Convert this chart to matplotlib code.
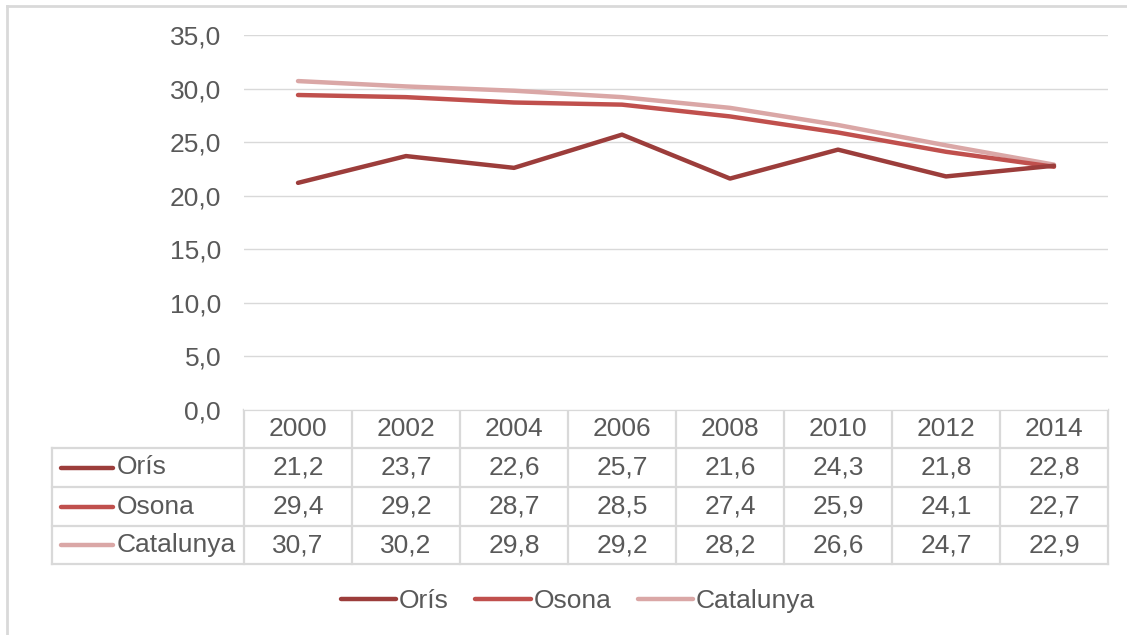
import matplotlib
matplotlib.use("Agg")
import matplotlib.pyplot as plt
from matplotlib.lines import Line2D

plt.rcParams['font.family'] = ['Liberation Sans', 'DejaVu Sans']

# ---------------- DATA ---------------- #
years = ["2000", "2002", "2004", "2006", "2008", "2010", "2012", "2014"]
oris = [21.2, 23.7, 22.6, 25.7, 21.6, 24.3, 21.8, 22.8]
osona = [29.4, 29.2, 28.7, 28.5, 27.4, 25.9, 24.1, 22.7]
catalunya = [30.7, 30.2, 29.8, 29.2, 28.2, 26.6, 24.7, 22.9]
series_names = ["Orís", "Osona", "Catalunya"]
y_ticks = [0, 5, 10, 15, 20, 25, 30, 35]

colors = ["#9c3d3b", "#c0504d", "#daa7a6"]
text_col = "#595959"
grid_col = "#d9d9d9"
fs = 19

W, H = 1127, 635
fig = plt.figure(figsize=(W / 100, H / 100), dpi=100)

# plot area in pixels
left, right, top, bottom = 244, 1108, 35, 410
ax = fig.add_axes([left / W, 1 - bottom / H, (right - left) / W, (bottom - top) / H])

x = list(range(len(years)))
for vals, c in zip([catalunya, osona, oris], colors[::-1]):
    ax.plot(x, vals, color=c, lw=3.2, solid_capstyle='round', solid_joinstyle='round')

ax.set_xlim(-0.5, len(years) - 0.5)
ax.set_ylim(0, 35)
ax.set_yticks(y_ticks)
ax.set_yticklabels([f"{v:.1f}".replace(".", ",") for v in y_ticks], color=text_col, fontsize=fs)
ax.tick_params(axis='y', length=0, pad=16.5)
ax.set_xticks([])
ax.grid(axis='y', color=grid_col, lw=1)
ax.set_axisbelow(True)
for s in ax.spines.values():
    s.set_visible(False)

# ---------------- TABLE (overlay in pixel coords) ---------------- #
ov = fig.add_axes([0, 0, 1, 1], zorder=-1)
ov.set_xlim(0, W)
ov.set_ylim(H, 0)
ov.axis('off')

col_w = (right - left) / len(years)
row_edges = [410, 448, 487, 526, 564]
tbl_left = 52

# outer chart border
ov.plot([7, 7], [H, 6], color=grid_col, lw=2)
ov.plot([7, W], [6, 6], color=grid_col, lw=2)

# horizontal lines
ov.plot([left, right], [row_edges[0]] * 2, color=grid_col, lw=1.6)
for yy in row_edges[1:]:
    ov.plot([tbl_left, right], [yy, yy], color=grid_col, lw=1.6)
# vertical lines
for i in range(len(years) + 1):
    xx = left + i * col_w
    ov.plot([xx, xx], [row_edges[0], row_edges[-1]], color=grid_col, lw=1.6)
ov.plot([tbl_left, tbl_left], [row_edges[1], row_edges[-1]], color=grid_col, lw=1.6)

# header
for i, yr in enumerate(years):
    ov.text(left + (i + 0.5) * col_w, (row_edges[0] + row_edges[1]) / 2, yr,
            ha='center', va='center', fontsize=fs, color=text_col)

# rows
for r, (name, vals, c) in enumerate(zip(series_names, [oris, osona, catalunya], colors)):
    yc = (row_edges[r + 1] + row_edges[r + 2]) / 2
    ov.plot([61, 113], [yc, yc], color=c, lw=3.2, solid_capstyle='round')
    ov.text(117, yc, name, ha='left', va='center', fontsize=fs, color=text_col)
    for i, v in enumerate(vals):
        ov.text(left + (i + 0.5) * col_w, yc, f"{v:.1f}".replace(".", ","),
                ha='center', va='center', fontsize=fs, color=text_col)

# ---------------- LEGEND ---------------- #
handles = [Line2D([0], [0], color=c, lw=3.2, solid_capstyle='round') for c in colors]
fig.legend(handles, series_names, loc='center', bbox_to_anchor=(578 / W, 1 - 601 / H),
           ncol=3, frameon=False, fontsize=fs, labelcolor=text_col,
           handlelength=2.1, handletextpad=0.1, columnspacing=1.0)

fig.savefig("out.png", dpi=100)
